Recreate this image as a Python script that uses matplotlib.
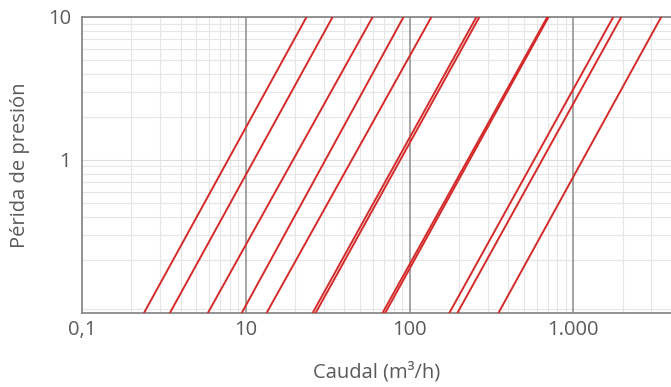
import numpy as np
import matplotlib.pyplot as plt
from matplotlib.ticker import LogLocator, FixedLocator, NullFormatter

# ==========================================
# 1. Data
# ==========================================
# each curve: flow at the bottom of the chart and flow at the top (10)
P_LOW = 0.085
P_HIGH = 10.0
q_low = [2.39, 3.44, 5.87, 9.45, 13.4, 25.6, 26.7, 68.4, 71.0, 175, 196, 349]
q_high = [23.5, 33.9, 59.5, 91.9, 136, 256, 267, 694, 706, 1754, 1963, 3441]

x_ticks = [1, 10, 100, 1000]
x_ticklabels = ['0,1', '10', '100', '1.000']
y_ticks = [1, 10]
y_ticklabels = ['1', '10']

# ==========================================
# 2. Plot
# ==========================================
plt.rcParams['font.family'] = ['Open Sans', 'DejaVu Sans']
TEXT = '#5a5a5a'
RED = '#d42a2a'

fig = plt.figure(figsize=(6.71, 3.87), dpi=100)
ax = fig.add_axes([82 / 671, 1 - 313 / 387, 1 - 82 / 671, (313 - 17) / 387])
ax.set_xscale('log')
ax.set_yscale('log')

for lo, hi in zip(q_low, q_high):
    ax.plot([lo, hi], [P_LOW, P_HIGH], color=RED, linewidth=1.4, zorder=3)

ax.set_xlim(1, 3950)
ax.set_ylim(P_LOW, P_HIGH)

# grid: faint minor lines, darker vertical decade lines
ax.xaxis.set_minor_locator(LogLocator(base=10, subs=np.arange(2, 10)))
ax.yaxis.set_minor_locator(LogLocator(base=10, subs=np.arange(2, 10)))
ax.grid(which='minor', color='#e6e6e6', linewidth=0.8)
ax.grid(which='major', axis='y', color='#dedede', linewidth=0.8)
for xv in x_ticks[1:]:
    ax.axvline(xv, color='#8c8c8c', linewidth=1.1, zorder=2)

ax.xaxis.set_major_locator(FixedLocator(x_ticks))
ax.set_xticklabels(x_ticklabels)
ax.yaxis.set_major_locator(FixedLocator(y_ticks))
ax.set_yticklabels(y_ticklabels)
ax.xaxis.set_minor_formatter(NullFormatter())
ax.yaxis.set_minor_formatter(NullFormatter())
ax.tick_params(which='both', length=0, labelsize=14.5, labelcolor=TEXT)
ax.tick_params(axis='x', pad=5)
ax.tick_params(axis='y', pad=8)

for side in ['left', 'bottom', 'top']:
    ax.spines[side].set_color('#808080')
    ax.spines[side].set_linewidth(1.2)
ax.spines['right'].set_visible(False)

ax.set_xlabel('Caudal (m³/h)', fontsize=14.5, color=TEXT)
ax.set_ylabel('Périda de presión', fontsize=14.5, color=TEXT)
ax.xaxis.set_label_coords(0.5, -(372 - 313) / 296)
ax.xaxis.label.set_va('center')
ax.yaxis.set_label_coords(-(82 - 20) / 589, 0.5)
ax.yaxis.label.set_va('center')

plt.savefig('out.png', dpi=100)
